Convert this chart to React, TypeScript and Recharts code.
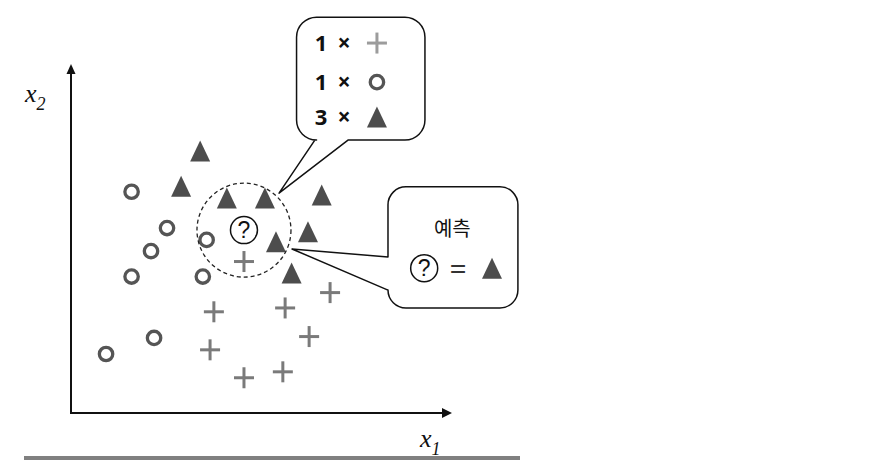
import { ReferenceArea, ReferenceDot, ReferenceLine, Scatter, ScatterChart, XAxis, YAxis } from 'recharts'

type Kind = 'plus' | 'circle' | 'triangle'
type Pt = { x: number; y: number }

// class "circle"
const CIRCLE_POINTS: Pt[] = [
  { x: 1.59, y: 6.34 },
  { x: 2.52, y: 5.3 },
  { x: 2.1, y: 4.64 },
  { x: 1.59, y: 3.91 },
  { x: 3.56, y: 4.96 },
  { x: 3.46, y: 3.91 },
  { x: 2.18, y: 2.15 },
  { x: 0.92, y: 1.69 },
]

// class "triangle"
const TRIANGLE_POINTS: Pt[] = [
  { x: 3.39, y: 7.51 },
  { x: 2.89, y: 6.5 },
  { x: 4.09, y: 6.16 },
  { x: 5.09, y: 6.16 },
  { x: 6.58, y: 6.25 },
  { x: 6.22, y: 5.19 },
  { x: 5.38, y: 4.91 },
  { x: 5.79, y: 4.01 },
]

// class "plus"
const PLUS_POINTS: Pt[] = [
  { x: 4.54, y: 4.34 },
  { x: 6.8, y: 3.45 },
  { x: 5.62, y: 3.01 },
  { x: 3.75, y: 2.9 },
  { x: 6.25, y: 2.19 },
  { x: 3.65, y: 1.81 },
  { x: 5.56, y: 1.18 },
  { x: 4.54, y: 1.01 },
]

const QUERY_POINT: Pt[] = [{ x: 4.54, y: 5.24 }]

const NEIGHBOUR_KINDS: Kind[] = ['plus', 'circle', 'triangle']
const NEIGHBOUR_COUNTS = ['1', '1', '3']
const PREDICTION_LABEL = '예측'
const PREDICTED_KIND: Kind = 'triangle'
const AXIS_NAMES = ['x', 'x']
const AXIS_SUBSCRIPTS = ['1', '2']

// layout of the two callouts (data units)
const COUNT_BOX = { x1: 5.92, x2: 9.29, y1: 7.82, y2: 11.34, side: 'bottom', base: [6.4, 7.27], tip: { x: 5.46, y: 6.3 }, r: 20 }
const COUNT_ROWS_Y = [10.6, 9.48, 8.48]
const COUNT_COLS_X = [6.4, 7.17, 8.03]
const PREDICT_BOX = { x1: 8.32, x2: 11.73, y1: 3.01, y2: 6.48, side: 'left', base: [3.52, 4.47], tip: { x: 5.8, y: 4.7 }, r: 18 }

const SANS = '"Open Sans", "Noto Sans", sans-serif'

function Marker({ cx, cy, kind, light }: { cx: number; cy: number; kind: Kind; light?: boolean }) {
  if (kind === 'circle') {
    return <circle cx={cx} cy={cy} r={6.7} fill="none" stroke="#555" strokeWidth={3.3} />
  }
  if (kind === 'triangle') {
    return <polygon points={`${cx},${cy - 10.5} ${cx + 10},${cy + 10.5} ${cx - 10},${cy + 10.5}`} fill="#4d4d4d" />
  }
  const color = light ? '#9c9c9c' : '#7a7a7a'
  return (
    <g stroke={color} strokeWidth={3}>
      <line x1={cx - 10} x2={cx + 10} y1={cy} y2={cy} />
      <line x1={cx} x2={cx} y1={cy - 10.5} y2={cy + 10.5} />
    </g>
  )
}

function QuestionMark({ cx, cy }: { cx: number; cy: number }) {
  return (
    <g>
      <circle cx={cx} cy={cy} r={13.5} fill="#fff" stroke="#111" strokeWidth={1.5} />
      <text x={cx} y={cy} dy="0.36em" textAnchor="middle" fontSize={23} fontFamily='"Liberation Sans Narrow", "Liberation Sans", sans-serif' fill="#111">
        ?
      </text>
    </g>
  )
}

function calloutShape(spec: typeof COUNT_BOX) {
  return (props: any) => {
    const { x, y, width: w, height: h } = props
    const px = (v: number) => x + ((v - spec.x1) / (spec.x2 - spec.x1)) * w
    const py = (v: number) => y + ((spec.y2 - v) / (spec.y2 - spec.y1)) * h
    const r = spec.r
    const tx = px(spec.tip.x)
    const ty = py(spec.tip.y)
    let d = `M ${x + r} ${y} H ${x + w - r} A ${r} ${r} 0 0 1 ${x + w} ${y + r} V ${y + h - r} A ${r} ${r} 0 0 1 ${x + w - r} ${y + h}`
    if (spec.side === 'bottom') {
      d += ` H ${px(spec.base[1])} L ${tx} ${ty} L ${px(spec.base[0])} ${y + h}`
    }
    d += ` H ${x + r} A ${r} ${r} 0 0 1 ${x} ${y + h - r}`
    if (spec.side === 'left') {
      d += ` V ${py(spec.base[0])} L ${tx} ${ty} L ${x} ${py(spec.base[1])}`
    }
    d += ` V ${y + r} A ${r} ${r} 0 0 1 ${x + r} ${y} Z`
    return <path d={d} fill="none" stroke="#111" strokeWidth={1.5} strokeLinejoin="round" />
  }
}

function axisLabel(index: number) {
  return (p: any) => (
    <text x={p.cx} y={p.cy} fontFamily='"Liberation Serif", serif' fontStyle="italic" fontSize={26} fill="#111">
      <tspan>{AXIS_NAMES[index]}</tspan>
      <tspan dy={8} fontSize={18}>
        {AXIS_SUBSCRIPTS[index]}
      </tspan>
    </text>
  )
}

export default function App() {
  return (
    <div style={{ position: 'absolute', left: 0, top: 0, width: 880, height: 460, background: '#fff' }}>
      <ScatterChart width={880} height={460} margin={{ top: 64, right: 428, bottom: 47, left: 71 }}>
        <XAxis type="number" dataKey="x" domain={[0, 10]} allowDataOverflow hide />
        <YAxis type="number" dataKey="y" domain={[0, 10]} allowDataOverflow hide />

        {/* axes with arrow heads */}
        <ReferenceLine segment={[{ x: 0, y: 0 }, { x: 9.8, y: 0 }]} stroke="#111" strokeWidth={2} ifOverflow="visible" />
        <ReferenceLine segment={[{ x: 0, y: -0.03 }, { x: 0, y: 9.8 }]} stroke="#111" strokeWidth={2} ifOverflow="visible" />
        <ReferenceDot
          x={10}
          y={0}
          ifOverflow="visible"
          shape={(p: any) => <polygon points={`${p.cx},${p.cy} ${p.cx - 10},${p.cy - 5} ${p.cx - 10},${p.cy + 5}`} fill="#111" />}
        />
        <ReferenceDot
          x={0}
          y={10}
          ifOverflow="visible"
          shape={(p: any) => <polygon points={`${p.cx},${p.cy} ${p.cx - 4.5},${p.cy + 10} ${p.cx + 4.5},${p.cy + 10}`} fill="#111" />}
        />
        <ReferenceDot x={9.16} y={-0.97} ifOverflow="visible" shape={axisLabel(0)} />
        <ReferenceDot x={-1.21} y={8.91} ifOverflow="visible" shape={axisLabel(1)} />

        <Scatter data={CIRCLE_POINTS} isAnimationActive={false} shape={(p: any) => <Marker cx={p.cx} cy={p.cy} kind="circle" />} />
        <Scatter data={TRIANGLE_POINTS} isAnimationActive={false} shape={(p: any) => <Marker cx={p.cx} cy={p.cy} kind="triangle" />} />
        <Scatter data={PLUS_POINTS} isAnimationActive={false} shape={(p: any) => <Marker cx={p.cx} cy={p.cy} kind="plus" />} />
        <Scatter
          data={QUERY_POINT}
          isAnimationActive={false}
          shape={(p: any) => (
            <g>
              <circle cx={p.cx} cy={p.cy} r={47} fill="none" stroke="#222" strokeWidth={1.3} strokeDasharray="4 3" />
              <QuestionMark cx={p.cx} cy={p.cy} />
            </g>
          )}
        />

        {/* callout: neighbour counts */}
        <ReferenceArea x1={COUNT_BOX.x1} x2={COUNT_BOX.x2} y1={COUNT_BOX.y1} y2={COUNT_BOX.y2} ifOverflow="visible" shape={calloutShape(COUNT_BOX)} />
        {NEIGHBOUR_KINDS.map((kind, i) => (
          <ReferenceDot
            key={`count-${i}`}
            x={COUNT_COLS_X[0]}
            y={COUNT_ROWS_Y[i]}
            ifOverflow="visible"
            shape={(p: any) => (
              <text x={p.cx} y={p.cy} dy="0.36em" fontFamily={SANS} fontWeight={700} fontSize={22} fill="#111">
                {NEIGHBOUR_COUNTS[i]}
              </text>
            )}
          />
        ))}
        {NEIGHBOUR_KINDS.map((kind, i) => (
          <ReferenceDot
            key={`times-${i}`}
            x={COUNT_COLS_X[1]}
            y={COUNT_ROWS_Y[i]}
            ifOverflow="visible"
            shape={(p: any) => (
              <text x={p.cx} y={p.cy} dy="0.36em" textAnchor="middle" fontFamily={SANS} fontWeight={700} fontSize={23} fill="#111">
                ×
              </text>
            )}
          />
        ))}
        {NEIGHBOUR_KINDS.map((kind, i) => (
          <ReferenceDot
            key={`kind-${i}`}
            x={COUNT_COLS_X[2]}
            y={COUNT_ROWS_Y[i]}
            ifOverflow="visible"
            shape={(p: any) => <Marker cx={p.cx} cy={p.cy} kind={kind} light />}
          />
        ))}

        {/* callout: prediction */}
        <ReferenceArea
          x1={PREDICT_BOX.x1}
          x2={PREDICT_BOX.x2}
          y1={PREDICT_BOX.y1}
          y2={PREDICT_BOX.y2}
          ifOverflow="visible"
          shape={calloutShape(PREDICT_BOX)}
        />
        <ReferenceDot
          x={10.01}
          y={5.27}
          ifOverflow="visible"
          shape={(p: any) => (
            <text x={p.cx} y={p.cy} dy="0.36em" textAnchor="middle" fontFamily='"Noto Sans CJK KR", sans-serif' fontWeight={400} fontSize={20} fill="#111">
              {PREDICTION_LABEL}
            </text>
          )}
        />
        <ReferenceDot x={9.27} y={4.15} ifOverflow="visible" shape={(p: any) => <QuestionMark cx={p.cx} cy={p.cy} />} />
        <ReferenceDot
          x={10.16}
          y={4.15}
          ifOverflow="visible"
          shape={(p: any) => (
            <text x={p.cx} y={p.cy} dy="0.36em" textAnchor="middle" fontFamily={SANS} fontSize={30} fill="#333">
              =
            </text>
          )}
        />
        <ReferenceDot x={11.05} y={4.15} ifOverflow="visible" shape={(p: any) => <Marker cx={p.cx} cy={p.cy} kind={PREDICTED_KIND} />} />
      </ScatterChart>
      <div style={{ position: 'absolute', left: 24, top: 456, width: 496, height: 4, background: '#808080' }} />
    </div>
  )
}
